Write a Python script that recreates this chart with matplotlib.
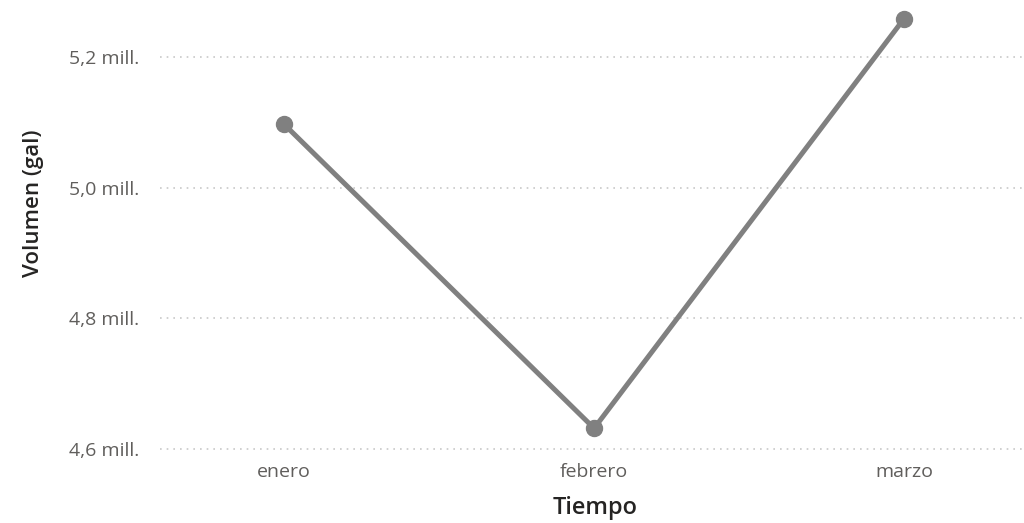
import matplotlib.pyplot as plt

meses = ['enero', 'febrero', 'marzo']
volumen = [5.097, 4.631, 5.259]  # millones de galones
yticks = [4.6, 4.8, 5.0, 5.2]

plt.rcParams['font.family'] = ['Open Sans', 'DejaVu Sans']

fig = plt.figure(figsize=(10.24, 5.23), dpi=100)
ax = fig.add_axes([160/1024, 1 - 460/523, 862/1024, 452/523])

x = range(len(meses))
ax.plot(x, volumen, color='#808080', lw=3.6, marker='o', ms=11.5,
        solid_capstyle='round', zorder=3)

ax.set_xlim(-0.4, 2.38)
ax.set_ylim(4.5824, 5.2751)
ax.set_yticks(yticks)
ax.set_yticklabels([f'{v:.1f} mill.'.replace('.', ',', 1) for v in yticks])
ax.set_xticks(list(x))
ax.set_xticklabels(meses)
ax.tick_params(length=0, labelsize=14, labelcolor='#605E5C')
ax.tick_params(axis='y', pad=15)
ax.tick_params(axis='x', pad=2)
ax.yaxis.grid(True, linestyle=(0, (1, 3)), color='#C8C8C8', lw=1.2)
for s in ax.spines.values():
    s.set_visible(False)

ax.set_xlabel('Tiempo', fontsize=17, color='#252423', fontweight='semibold')
ax.set_ylabel('Volumen (gal)', fontsize=16, color='#252423', fontweight='semibold')
ax.xaxis.label.set_verticalalignment('center')
ax.yaxis.label.set_verticalalignment('center')
ax.xaxis.set_label_coords(0.505, -0.106)
ax.yaxis.set_label_coords(-0.147, 0.569)

fig.savefig('out.png', dpi=100)
